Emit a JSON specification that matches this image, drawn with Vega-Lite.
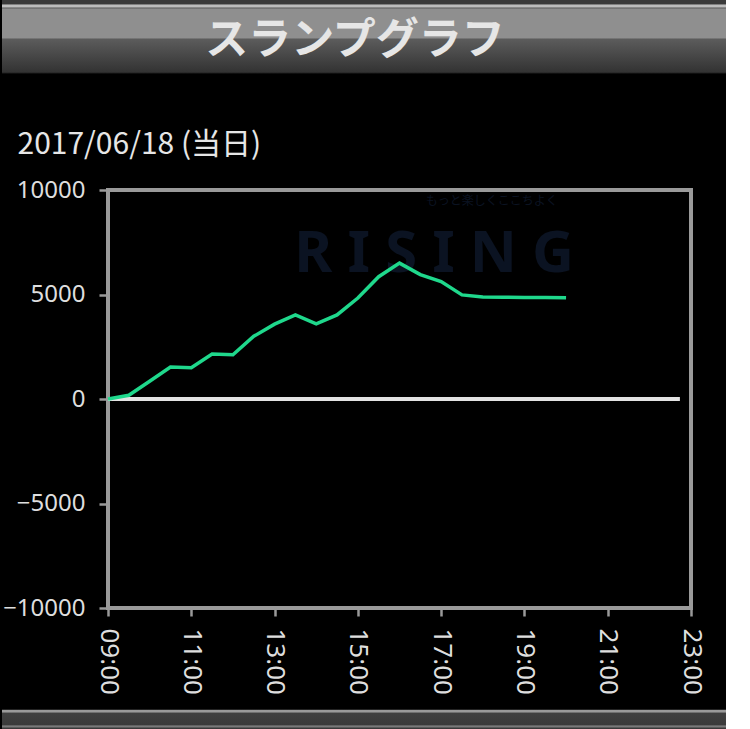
{
  "$schema": "https://vega.github.io/schema/vega-lite/v6.json",
  "background": "#000000",
  "padding": 0,
  "columns": 3,
  "bounds": "flush",
  "spacing": 0,
  "config": {"view": {"stroke": null}, "font": "Noto Sans", "concat": {"spacing": 0}},
  "datasets": {
    "slump": [
      {"time": "2017-06-18T09:00", "diff": 0},
      {"time": "2017-06-18T09:30", "diff": 180},
      {"time": "2017-06-18T10:00", "diff": 850},
      {"time": "2017-06-18T10:30", "diff": 1530},
      {"time": "2017-06-18T11:00", "diff": 1500},
      {"time": "2017-06-18T11:30", "diff": 2150},
      {"time": "2017-06-18T12:00", "diff": 2120},
      {"time": "2017-06-18T12:30", "diff": 3000},
      {"time": "2017-06-18T13:00", "diff": 3580},
      {"time": "2017-06-18T13:30", "diff": 4020},
      {"time": "2017-06-18T14:00", "diff": 3600},
      {"time": "2017-06-18T14:30", "diff": 4020},
      {"time": "2017-06-18T15:00", "diff": 4830},
      {"time": "2017-06-18T15:30", "diff": 5850},
      {"time": "2017-06-18T16:00", "diff": 6500},
      {"time": "2017-06-18T16:30", "diff": 5950},
      {"time": "2017-06-18T17:00", "diff": 5620},
      {"time": "2017-06-18T17:30", "diff": 4980},
      {"time": "2017-06-18T18:00", "diff": 4880},
      {"time": "2017-06-18T18:30", "diff": 4870},
      {"time": "2017-06-18T19:00", "diff": 4860},
      {"time": "2017-06-18T19:30", "diff": 4860},
      {"time": "2017-06-18T20:00", "diff": 4850}
    ],
    "one": [{}]
  },
  "concat": [
    {
      "width": 106,
      "height": 190,
      "data": {"name": "one"},
      "mark": {
        "type": "rect",
        "fill": {
          "gradient": "linear", "x1": 0, "y1": 0, "x2": 0, "y2": 1,
          "stops": [
            {"offset": 0, "color": "#3a3a3a"},
            {"offset": 0.021, "color": "#3a3a3a"},
            {"offset": 0.026, "color": "#bdbdbd"},
            {"offset": 0.037, "color": "#bdbdbd"},
            {"offset": 0.042, "color": "#555555"},
            {"offset": 0.047, "color": "#8f8f8f"},
            {"offset": 0.2, "color": "#8f8f8f"},
            {"offset": 0.205, "color": "#5c5c5c"},
            {"offset": 0.379, "color": "#333333"},
            {"offset": 0.384, "color": "#222222"},
            {"offset": 0.389, "color": "#000000"},
            {"offset": 1, "color": "#000000"}
          ]
        }
      },
      "encoding": {}
    },
    {
      "width": 618,
      "height": 190,
      "data": {"name": "one"},
      "layer": [
        {
          "mark": {
            "type": "rect",
            "fill": {
              "gradient": "linear", "x1": 0, "y1": 0, "x2": 0, "y2": 1,
              "stops": [
                {"offset": 0, "color": "#3a3a3a"},
                {"offset": 0.021, "color": "#3a3a3a"},
                {"offset": 0.026, "color": "#bdbdbd"},
                {"offset": 0.037, "color": "#bdbdbd"},
                {"offset": 0.042, "color": "#555555"},
                {"offset": 0.047, "color": "#8f8f8f"},
                {"offset": 0.2, "color": "#8f8f8f"},
                {"offset": 0.205, "color": "#5c5c5c"},
                {"offset": 0.379, "color": "#333333"},
                {"offset": 0.384, "color": "#222222"},
                {"offset": 0.389, "color": "#000000"},
                {"offset": 1, "color": "#000000"}
              ]
            }
          },
          "encoding": {}
        },
        {
          "mark": {"type": "text", "text": "スランプグラフ", "font": "Noto Sans CJK JP", "fontWeight": "bold", "fontSize": 43, "color": "#e6e6e6", "dx": -62, "dy": -54},
          "encoding": {}
        }
      ]
    },
    {
      "width": 26,
      "height": 190,
      "data": {"name": "one"},
      "mark": {"type": "rect", "fill": "#ffffff"},
      "encoding": {}
    },
    {
      "width": 106,
      "height": 418,
      "data": {"name": "one"},
      "mark": {"type": "rect", "fill": "#000000"},
      "encoding": {}
    },
    {
      "width": 583,
      "height": 418,
      "view": {"stroke": "#9a9a9a", "strokeWidth": 4, "fill": "#000000"},
      "layer": [
        {
          "data": {"name": "one"},
          "mark": {"type": "text", "text": "R I S I N G", "fontSize": 58, "fontWeight": "bold", "color": "#0b1322", "font": "Noto Sans"},
          "encoding": {"x": {"datum": {"year": 2017, "month": 6, "date": 18, "hours": 16, "minutes": 50}, "type": "temporal"}, "y": {"datum": 6900, "type": "quantitative"}}
        },
        {
          "data": {"name": "one"},
          "mark": {"type": "text", "text": "もっと楽しくここちよく", "fontSize": 12, "color": "#0b1322", "font": "Noto Sans CJK JP"},
          "encoding": {"x": {"datum": {"year": 2017, "month": 6, "date": 18, "hours": 18, "minutes": 13}, "type": "temporal"}, "y": {"datum": 9450, "type": "quantitative"}}
        },
        {
          "data": {"name": "one"},
          "mark": {"type": "rule", "color": "#e3e3e3", "strokeWidth": 4},
          "encoding": {
            "y": {"datum": 0, "type": "quantitative"},
            "x": {"datum": {"year": 2017, "month": 6, "date": 18, "hours": 9, "minutes": 0}, "type": "temporal"},
            "x2": {"datum": {"year": 2017, "month": 6, "date": 18, "hours": 22, "minutes": 44}}
          }
        },
        {
          "data": {"name": "slump"},
          "mark": {"type": "line", "color": "#1fd88c", "strokeWidth": 3.5},
          "encoding": {
            "x": {
              "field": "time", "type": "temporal",
              "scale": {"domain": [{"year": 2017, "month": 6, "date": 18, "hours": 9}, {"year": 2017, "month": 6, "date": 18, "hours": 23}]},
              "axis": {
                "title": null, "format": "%H:%M", "labelAngle": 90, "labelAlign": "left", "labelBaseline": "middle",
                "labelFontSize": 26, "labelColor": "#dedede", "labelPadding": 12,
                "values": [
                  {"year": 2017, "month": 6, "date": 18, "hours": 9},
                  {"year": 2017, "month": 6, "date": 18, "hours": 11},
                  {"year": 2017, "month": 6, "date": 18, "hours": 13},
                  {"year": 2017, "month": 6, "date": 18, "hours": 15},
                  {"year": 2017, "month": 6, "date": 18, "hours": 17},
                  {"year": 2017, "month": 6, "date": 18, "hours": 19},
                  {"year": 2017, "month": 6, "date": 18, "hours": 21},
                  {"year": 2017, "month": 6, "date": 18, "hours": 23}
                ],
                "grid": false, "domain": false, "tickColor": "#9a9a9a", "tickWidth": 2.5, "tickSize": 8, "labelOverlap": false, "labelFlush": false
              }
            },
            "y": {
              "field": "diff", "type": "quantitative",
              "scale": {"domain": [-10000, 10000]},
              "axis": {
                "title": "2017/06/18 (当日)", "titleAngle": 0, "titleX": -91, "titleY": -37, "titleAlign": "left", "titleBaseline": "alphabetic",
                "titleFontSize": 30, "titleFontWeight": "normal", "titleColor": "#e6e6e6", "titleFont": "Noto Sans CJK JP",
                "values": [-10000, -5000, 0, 5000, 10000], "format": "d",
                "labelFontSize": 24, "labelColor": "#dedede", "labelPadding": 14,
                "grid": false, "domain": false, "tickColor": "#9a9a9a", "tickWidth": 2.5, "tickSize": 9
              }
            }
          }
        }
      ]
    },
    {
      "width": 26,
      "height": 418,
      "data": {"name": "one"},
      "mark": {"type": "rect", "fill": "#ffffff"},
      "encoding": {}
    },
    {
      "width": 106,
      "height": 121,
      "data": {"name": "one"},
      "mark": {
        "type": "rect",
        "fill": {
          "gradient": "linear", "x1": 0, "y1": 0, "x2": 0, "y2": 1,
          "stops": [
            {"offset": 0, "color": "rgba(0,0,0,0)"},
            {"offset": 0.835, "color": "rgba(0,0,0,0)"},
            {"offset": 0.843, "color": "#9a9a9a"},
            {"offset": 0.86, "color": "#9a9a9a"},
            {"offset": 0.868, "color": "#404040"},
            {"offset": 0.967, "color": "#3a3a3a"},
            {"offset": 0.975, "color": "#8a8a8a"},
            {"offset": 1, "color": "#2a2a2a"}
          ]
        }
      },
      "encoding": {}
    },
    {
      "width": 618,
      "height": 121,
      "data": {"name": "one"},
      "mark": {
        "type": "rect",
        "fill": {
          "gradient": "linear", "x1": 0, "y1": 0, "x2": 0, "y2": 1,
          "stops": [
            {"offset": 0, "color": "rgba(0,0,0,0)"},
            {"offset": 0.835, "color": "rgba(0,0,0,0)"},
            {"offset": 0.843, "color": "#9a9a9a"},
            {"offset": 0.86, "color": "#9a9a9a"},
            {"offset": 0.868, "color": "#404040"},
            {"offset": 0.967, "color": "#3a3a3a"},
            {"offset": 0.975, "color": "#8a8a8a"},
            {"offset": 1, "color": "#2a2a2a"}
          ]
        }
      },
      "encoding": {}
    },
    {
      "width": 26,
      "height": 121,
      "data": {"name": "one"},
      "mark": {"type": "rect", "fill": "#ffffff"},
      "encoding": {}
    }
  ]
}
